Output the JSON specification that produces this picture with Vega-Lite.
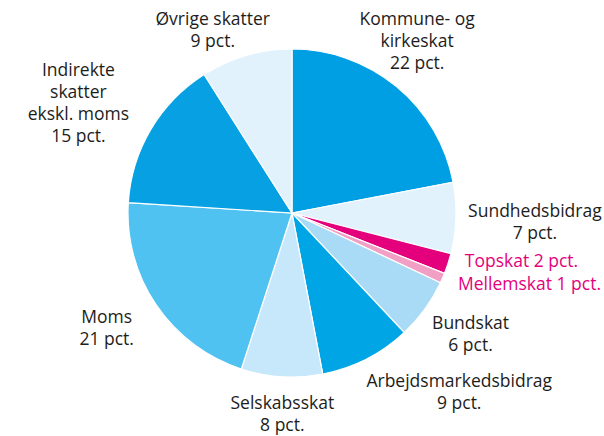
{
  "$schema": "https://vega.github.io/schema/vega-lite/v6.json",
  "width": 584,
  "height": 426,
  "autosize": {"type": "none"},
  "padding": {"left": 0, "top": 0, "right": 20, "bottom": 10},
  "background": "white",
  "data": {
    "values": [
      {"idx": 1, "cat": "Kommune- og kirkeskat", "value": 22, "label": "Kommune- og\nkirkeskat\n22 pct."},
      {"idx": 2, "cat": "Sundhedsbidrag", "value": 7, "label": "Sundhedsbidrag\n7 pct."},
      {"idx": 3, "cat": "Topskat", "value": 2, "label": "Topskat 2 pct."},
      {"idx": 4, "cat": "Mellemskat", "value": 1, "label": "Mellemskat 1 pct."},
      {"idx": 5, "cat": "Bundskat", "value": 6, "label": "Bundskat\n6 pct."},
      {"idx": 6, "cat": "Arbejdsmarkedsbidrag", "value": 9, "label": "Arbejdsmarkedsbidrag\n9 pct."},
      {"idx": 7, "cat": "Selskabsskat", "value": 8, "label": "Selskabsskat\n8 pct."},
      {"idx": 8, "cat": "Moms", "value": 21, "label": "Moms\n21 pct."},
      {"idx": 9, "cat": "Indirekte skatter ekskl. moms", "value": 15, "label": "Indirekte\nskatter\nekskl. moms\n15 pct."},
      {"idx": 10, "cat": "Øvrige skatter", "value": 9, "label": "Øvrige skatter\n9 pct."}
    ]
  },
  "encoding": {
    "theta": {"field": "value", "type": "quantitative", "stack": true},
    "order": {"field": "idx", "type": "quantitative"}
  },
  "layer": [
    {
      "mark": {"type": "arc", "outerRadius": 164, "stroke": "white", "strokeWidth": 1.2},
      "encoding": {
        "color": {
          "field": "cat",
          "type": "nominal",
          "legend": null,
          "scale": {
            "domain": ["Kommune- og kirkeskat", "Sundhedsbidrag", "Topskat", "Mellemskat", "Bundskat", "Arbejdsmarkedsbidrag", "Selskabsskat", "Moms", "Indirekte skatter ekskl. moms", "Øvrige skatter"],
            "range": ["#009FE3", "#E1F2FC", "#E4007C", "#F29FC5", "#A9DBF6", "#00A5E5", "#C7E7FA", "#50C2F1", "#07A1E3", "#E1F2FC"]
          }
        }
      }
    },
    {"mark": {"type": "text", "radius": 212, "dx": -10, "dy": -30}, "encoding": {"text": {"condition": {"test": "datum.idx === 1", "field": "label"}, "value": ""}}},
    {"mark": {"type": "text", "radius": 243, "dx": 0, "dy": -9}, "encoding": {"text": {"condition": {"test": "datum.idx === 2", "field": "label"}, "value": ""}}},
    {"mark": {"type": "text", "radius": 235, "dx": 6, "dy": -24, "color": "#E4007C"}, "encoding": {"text": {"condition": {"test": "datum.idx === 3", "field": "label"}, "value": ""}}},
    {"mark": {"type": "text", "radius": 249, "dx": 9, "dy": -27, "color": "#E4007C"}, "encoding": {"text": {"condition": {"test": "datum.idx === 4", "field": "label"}, "value": ""}}},
    {"mark": {"type": "text", "radius": 217, "dx": 3, "dy": -17}, "encoding": {"text": {"condition": {"test": "datum.idx === 5", "field": "label"}, "value": ""}}},
    {"mark": {"type": "text", "radius": 245, "dx": 56, "dy": -49}, "encoding": {"text": {"condition": {"test": "datum.idx === 6", "field": "label"}, "value": ""}}},
    {"mark": {"type": "text", "radius": 202, "dx": 3, "dy": -11}, "encoding": {"text": {"condition": {"test": "datum.idx === 7", "field": "label"}, "value": ""}}},
    {"mark": {"type": "text", "radius": 218, "dx": -5, "dy": -18}, "encoding": {"text": {"condition": {"test": "datum.idx === 8", "field": "label"}, "value": ""}}},
    {"mark": {"type": "text", "radius": 240, "dx": -7, "dy": -20}, "encoding": {"text": {"condition": {"test": "datum.idx === 9", "field": "label"}, "value": ""}}},
    {"mark": {"type": "text", "radius": 198, "dx": -24, "dy": -3}, "encoding": {"text": {"condition": {"test": "datum.idx === 10", "field": "label"}, "value": ""}}}
  ],
  "config": {
    "view": {"stroke": null},
    "text": {"font": "Open Sans", "fontSize": 17.5, "lineHeight": 22, "color": "#1d1d1b", "lineBreak": "\n", "align": "center", "baseline": "middle"}
  }
}
